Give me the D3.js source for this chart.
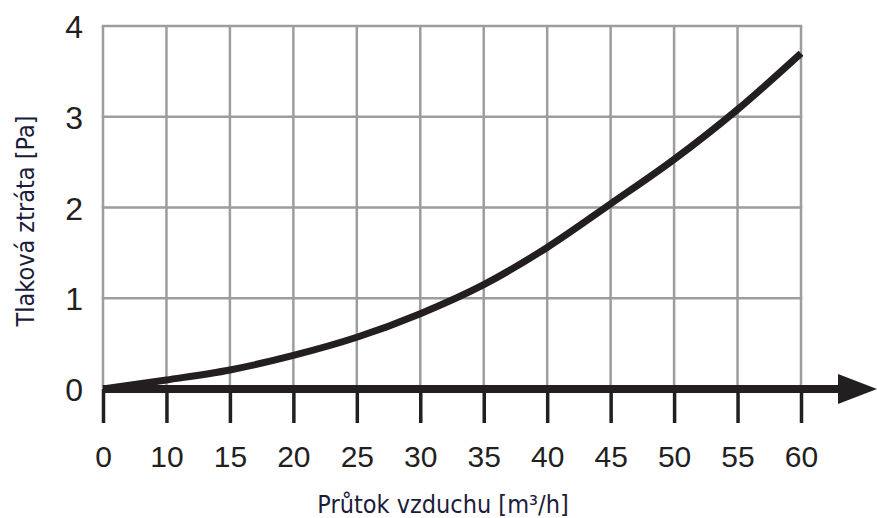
<!DOCTYPE html>
<html>
<head>
<meta charset="utf-8">
<script src="https://cdn.jsdelivr.net/npm/d3@7"></script>
<style>
  body { margin: 0; background: #fff; }
  svg { display: block; }
</style>
</head>
<body>
<div id="chart"></div>
<script>
// flow ticks (equally spaced on the axis, even though 0 -> 10 skips 5)
var flowTicks = [0, 10, 15, 20, 25, 30, 35, 40, 45, 50, 55, 60];
var pressTicks = [0, 1, 2, 3, 4];

// curve at each tick
var flow = [0, 10, 15, 20, 25, 30, 35, 40, 45, 50, 55, 60];
var loss = [0, 0.1, 0.21, 0.37, 0.57, 0.83, 1.15, 1.56, 2.04, 2.53, 3.08, 3.7];

var xLabel = "Průtok vzduchu [m³/h]";
var yLabel = "Tlaková ztráta [Pa]";

var width = 877, height = 518;
var margin = {top: 26, right: 76, bottom: 129, left: 103},
    w = width - margin.left - margin.right,
    h = height - margin.top - margin.bottom;

var svg = d3.select("#chart").append("svg")
  .attr("width", width)
  .attr("height", height);

var g = svg.append("g")
  .attr("transform", "translate(" + margin.left + "," + margin.top + ")");

// polylinear scale so every tick gets the same spacing
var step = w / (flowTicks.length - 1);
var x = d3.scaleLinear()
  .domain(flowTicks)
  .range(flowTicks.map(function(d, i) { return i * step; }));

var y = d3.scaleLinear().domain([0, 4]).range([h, 0]);

var gridColor = "#9d9d9f";
var tickFont = "'Liberation Sans', Arial, sans-serif";
var titleFont = "'DejaVu Sans Condensed', 'DejaVu Sans', sans-serif";

// grid
g.append("g")
  .selectAll("line")
  .data(flowTicks)
  .enter().append("line")
  .attr("x1", d => x(d)).attr("x2", d => x(d))
  .attr("y1", 0).attr("y2", h)
  .attr("stroke", gridColor)
  .attr("stroke-width", 2.5);

g.append("g")
  .selectAll("line")
  .data(pressTicks.filter(d => d > 0))
  .enter().append("line")
  .attr("x1", -1.25).attr("x2", w + 1.25)
  .attr("y1", d => y(d)).attr("y2", d => y(d))
  .attr("stroke", gridColor)
  .attr("stroke-width", 2.5);

// y axis labels
var yAxis = d3.axisLeft(y).tickValues(pressTicks).tickSize(0).tickPadding(20)
  .tickFormat(d3.format("d"));
var yg = g.append("g").call(yAxis);
yg.select(".domain").remove();
yg.selectAll("text")
  .style("font-family", tickFont)
  .style("font-size", "32px")
  .attr("fill", "#231f20")
  .attr("dy", "0.36em");

// x axis with ticks hanging below
var xAxis = d3.axisBottom(x).tickValues(flowTicks).tickSize(34).tickPadding(23)
  .tickFormat(d3.format("d"));
var xg = g.append("g")
  .attr("transform", "translate(0," + h + ")")
  .call(xAxis);
xg.select(".domain").remove();
xg.selectAll(".tick line")
  .attr("stroke", "#231f20")
  .attr("stroke-width", 3.5);
xg.selectAll("text")
  .style("font-family", tickFont)
  .style("font-size", "30px")
  .attr("fill", "#231f20");

// axis line with arrow
g.append("line")
  .attr("x1", 0).attr("x2", w + 40)
  .attr("y1", h).attr("y2", h)
  .attr("stroke", "#231f20")
  .attr("stroke-width", 8);

g.append("path")
  .attr("d", "M" + (w + 37) + "," + (h - 15) + "L" + (w + 76) + "," + h + "L" + (w + 37) + "," + (h + 15) + "Z")
  .attr("fill", "#231f20");

// curve
var pts = flow.map(function(d, i) { return [d, loss[i]]; });
var line = d3.line()
  .x(d => x(d[0]))
  .y(d => y(d[1]))
  .curve(d3.curveMonotoneX);

g.append("path")
  .datum(pts)
  .attr("d", line)
  .attr("fill", "none")
  .attr("stroke", "#231f20")
  .attr("stroke-width", 7);

// axis titles
svg.append("text")
  .attr("x", 443)
  .attr("y", 513)
  .attr("text-anchor", "middle")
  .style("font-family", titleFont)
  .style("font-size", "25px")
  .attr("fill", "#1c1c3a")
  .text(xLabel);

svg.append("text")
  .attr("transform", "translate(34,221) rotate(-90)")
  .attr("text-anchor", "middle")
  .style("font-family", titleFont)
  .style("font-size", "25px")
  .attr("fill", "#1c1c3a")
  .text(yLabel);
</script>
</body>
</html>
